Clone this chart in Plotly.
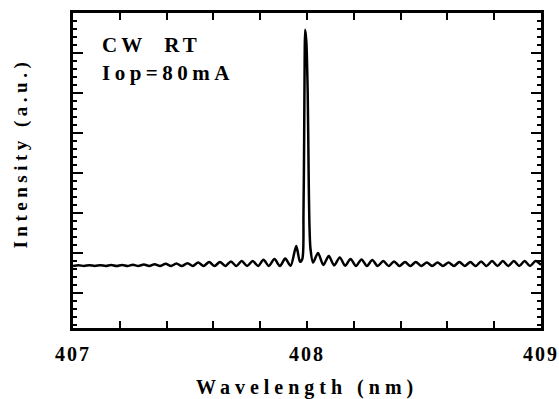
import plotly.graph_objects as go

# Spectrum (wavelength in nm, intensity in arbitrary units)
wavelength = [
    407.000, 407.024, 407.047, 407.070, 407.093, 407.117, 407.140, 407.163, 407.186,
    407.210, 407.233, 407.256, 407.279, 407.303, 407.326, 407.349, 407.372, 407.396,
    407.419, 407.442, 407.465, 407.489, 407.512, 407.535, 407.558, 407.582, 407.605,
    407.628, 407.651, 407.675, 407.698, 407.721, 407.744, 407.768, 407.791, 407.814,
    407.837, 407.861, 407.884, 407.907, 407.930, 407.954, 407.970,
    407.980, 407.985, 407.988, 407.990, 407.992, 407.997, 408.003, 408.007, 408.010,
    408.015, 408.026,
    408.047, 408.070, 408.093, 408.116, 408.140, 408.163, 408.186, 408.209, 408.233,
    408.256, 408.279, 408.302, 408.326, 408.349, 408.372, 408.395, 408.419, 408.442,
    408.465, 408.488, 408.512, 408.535, 408.558, 408.581, 408.605, 408.628, 408.651,
    408.674, 408.698, 408.721, 408.744, 408.767, 408.791, 408.814, 408.837, 408.860,
    408.884, 408.907, 408.930, 408.953, 408.977, 409.000,
]
intensity = [
    1.675, 1.695, 1.675, 1.695, 1.675, 1.695, 1.675, 1.70, 1.675,
    1.70, 1.675, 1.705, 1.675, 1.71, 1.675, 1.72, 1.675, 1.73,
    1.675, 1.74, 1.675, 1.745, 1.675, 1.76, 1.675, 1.775, 1.675,
    1.775, 1.675, 1.79, 1.675, 1.80, 1.675, 1.80, 1.675, 1.83,
    1.675, 1.85, 1.675, 1.86, 1.68, 2.175, 1.78,
    1.85, 3.0, 5.0, 6.8, 7.58, 7.3, 6.0, 4.0, 2.8,
    2.1, 1.76,
    2.0, 1.70, 1.925, 1.69, 1.89, 1.68, 1.85, 1.675, 1.84,
    1.675, 1.825, 1.675, 1.80, 1.675, 1.79, 1.675, 1.775, 1.675,
    1.775, 1.675, 1.76, 1.675, 1.76, 1.675, 1.76, 1.675, 1.775,
    1.675, 1.775, 1.675, 1.79, 1.675, 1.80, 1.675, 1.80, 1.675,
    1.80, 1.675, 1.80, 1.675, 1.80, 1.70,
]

x_tick_values = [407.0, 407.2, 407.4, 407.6, 407.8, 408.0, 408.2, 408.4, 408.6, 408.8, 409.0]
x_tick_labels = ["407", "", "", "", "", "408", "", "", "", "", "409"]
y_tick_values = [1, 2, 3, 4, 5, 6, 7]

FONT = "Liberation Serif"


def spaced(text, px):
    return f'<span style="letter-spacing:{px}px">{text}</span>' if text else ""


fig = go.Figure()
fig.add_trace(go.Scatter(
    x=wavelength, y=intensity, mode="lines",
    line=dict(color="black", width=2.5, shape="spline", smoothing=0.8),
    showlegend=False, hoverinfo="skip",
))

fig.update_layout(
    width=559, height=399,
    margin=dict(l=73, r=18, t=13, b=71),
    paper_bgcolor="white", plot_bgcolor="white",
    font=dict(family=FONT, color="black"),
    xaxis=dict(
        range=[407, 409], tickmode="array", tickvals=x_tick_values,
        ticktext=[spaced(t, 2) for t in x_tick_labels],
        ticks="inside", ticklen=7, tickwidth=2, tickcolor="black",
        showline=True, linewidth=2.5, linecolor="black", mirror="ticks",
        showgrid=False, zeroline=False, automargin=False,
        tickfont=dict(family=FONT, size=20, weight="bold"),
        ticklabelstandoff=6,
    ),
    yaxis=dict(
        range=[0.125, 8.0], tickmode="array", tickvals=y_tick_values,
        ticks="inside", ticklen=10, tickwidth=2, tickcolor="black",
        minor=dict(dtick=0.2, tick0=0, ticks="inside", ticklen=4, tickwidth=2, tickcolor="black"),
        showline=True, linewidth=2.5, linecolor="black", mirror="ticks",
        showgrid=False, zeroline=False, showticklabels=False, automargin=False,
    ),
)

fig.add_annotation(
    text=spaced("Wavelength (nm)", 5),
    xref="paper", yref="paper", x=0.5, y=-0.19, xanchor="center", yanchor="middle",
    showarrow=False, font=dict(family=FONT, size=20, weight="bold"),
)
fig.add_annotation(
    text=spaced("Intensity (a.u.)", 4.5),
    xref="paper", yref="paper", x=-0.111, y=0.554, xanchor="center", yanchor="middle",
    textangle=-90, showarrow=False, font=dict(family=FONT, size=19, weight="bold"),
)
fig.add_annotation(
    text=spaced("CW  RT", 4),
    xref="paper", yref="paper", x=0.058, y=0.899, xanchor="left", yanchor="middle",
    showarrow=False, font=dict(family=FONT, size=21, weight="bold"),
)
fig.add_annotation(
    text=spaced("Iop=80mA", 4.5),
    xref="paper", yref="paper", x=0.058, y=0.811, xanchor="left", yanchor="middle",
    showarrow=False, font=dict(family=FONT, size=21, weight="bold"),
)

fig.write_html("out.html")
